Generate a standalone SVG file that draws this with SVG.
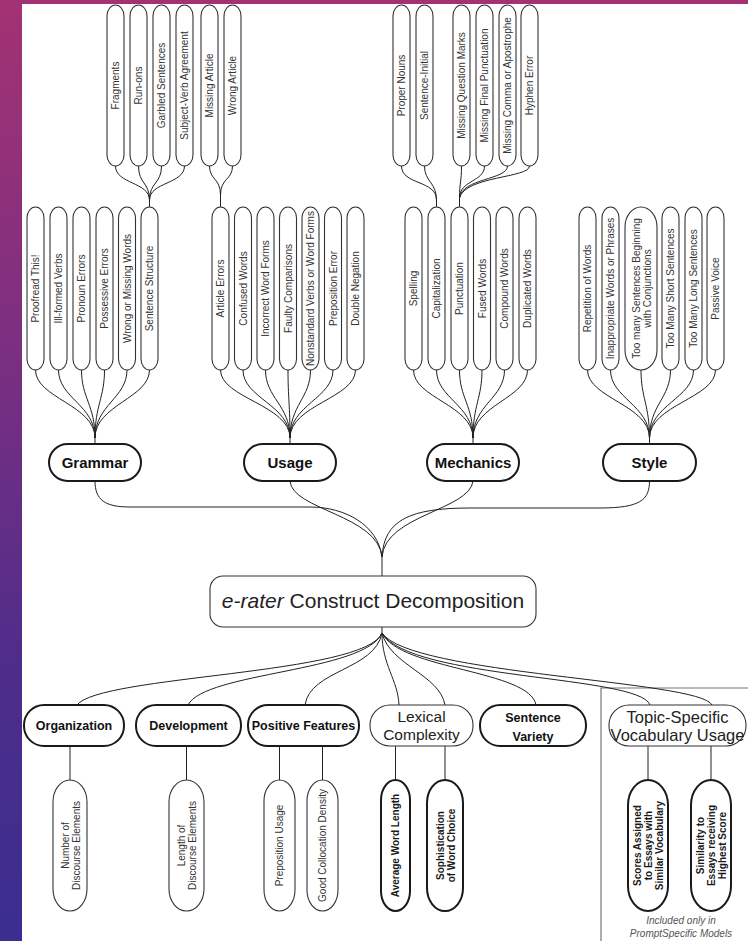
<svg xmlns="http://www.w3.org/2000/svg" width="748" height="941" viewBox="0 0 748 941">
<defs>
<linearGradient id="bg" x1="0" y1="0" x2="0" y2="1">
<stop offset="0" stop-color="#a33272"/>
<stop offset="0.35" stop-color="#7e2f80"/>
<stop offset="0.7" stop-color="#4f2d8a"/>
<stop offset="1" stop-color="#3a2e90"/>
</linearGradient>
<style>
.pill{fill:#fff;stroke:#333;stroke-width:1.1}
.pillb{fill:#fff;stroke:#1a1a1a;stroke-width:2}
.cat{fill:#fff;stroke:#1a1a1a;stroke-width:2}
.catt{fill:#fff;stroke:#333;stroke-width:1.1}
.pt{font-family:"Liberation Sans",Arial,sans-serif;font-size:10px;fill:#333;text-anchor:middle;dominant-baseline:central}
.ptb{font-family:"Liberation Sans",Arial,sans-serif;font-size:10px;font-weight:bold;fill:#1a1a1a;text-anchor:middle;dominant-baseline:central}
.ct{font-family:"Liberation Sans",Arial,sans-serif;font-size:15px;font-weight:bold;fill:#111;text-anchor:middle}
.bt{font-family:"Liberation Sans",Arial,sans-serif;font-size:12.5px;font-weight:bold;fill:#111;text-anchor:middle}
.rt{font-family:"Liberation Sans",Arial,sans-serif;font-weight:normal;fill:#222;text-anchor:middle}
.conn path{fill:none;stroke:#222;stroke-width:1}
.leafc{stroke:#555;stroke-width:1.3}
.note{font-family:"Liberation Sans",Arial,sans-serif;font-size:10px;font-style:italic;fill:#555;text-anchor:middle}
</style>
</defs>
<rect x="0" y="0" width="748" height="941" fill="url(#bg)"/>
<rect x="22" y="4" width="726" height="937" fill="#fff"/>

<!-- separator -->
<g id="separator" stroke="#777" stroke-width="1.2" fill="none">
<path d="M601 941 V688 H748"/>
</g>

<!-- connectors -->
<g id="connectors" class="conn">
<path d="M115.5 166 C115.5 184 149.5 182 149.5 200"/>
<path d="M138.5 166 C138.5 184 149.5 182 149.5 200"/>
<path d="M161.5 166 C161.5 184 149.5 182 149.5 200"/>
<path d="M184.5 166 C184.5 184 149.5 182 149.5 200"/>
<path d="M149.5 200 V207"/>
<path d="M209.5 166 C209.5 180 220.5 178 220.5 195"/>
<path d="M232.5 166 C232.5 180 220.5 178 220.5 195"/>
<path d="M220.5 195 V207"/>
<path d="M401.5 166 C401.5 185 436.5 180 436.5 200"/>
<path d="M424.5 166 C424.5 182 436.5 182 436.5 200"/>
<path d="M436.5 200 V207"/>
<path d="M461.5 166 C461.5 182 459.5 182 459.5 198"/>
<path d="M484.5 166 C484.5 182 459.5 180 459.5 198"/>
<path d="M507.5 166 C507.5 180 462 178 459.5 198"/>
<path d="M529.5 166 C529.5 178 465 176 459.5 198"/>
<path d="M459.5 198 V207"/>

<path d="M35.5 370 C35.5 398 95 405 95 438"/>
<path d="M58.5 370 C58.5 398 95 405 95 438"/>
<path d="M81.5 370 C81.5 398 95 405 95 438"/>
<path d="M104.5 370 C104.5 398 95 405 95 438"/>
<path d="M127 370 C127 398 95 405 95 438"/>
<path d="M149.5 370 C149.5 398 95 405 95 438"/>
<path d="M95 438 V444"/>

<path d="M220.5 370 C220.5 398 290 405 290 438"/>
<path d="M243 370 C243 398 290 405 290 438"/>
<path d="M265.5 370 C265.5 398 290 405 290 438"/>
<path d="M288 370 C288 398 290 405 290 438"/>
<path d="M310.5 370 C310.5 398 290 405 290 438"/>
<path d="M333 370 C333 398 290 405 290 438"/>
<path d="M355.5 370 C355.5 398 290 405 290 438"/>
<path d="M290 438 V444"/>

<path d="M413.5 370 C413.5 398 473 405 473 438"/>
<path d="M436.5 370 C436.5 398 473 405 473 438"/>
<path d="M459.5 370 C459.5 398 473 405 473 438"/>
<path d="M482 370 C482 398 473 405 473 438"/>
<path d="M504.5 370 C504.5 398 473 405 473 438"/>
<path d="M527.5 370 C527.5 398 473 405 473 438"/>
<path d="M473 438 V444"/>

<path d="M587.5 370 C587.5 398 649.5 405 649.5 438"/>
<path d="M610.5 370 C610.5 398 649.5 405 649.5 438"/>
<path d="M641 370 C641 398 649.5 405 649.5 438"/>
<path d="M670.5 370 C670.5 398 649.5 405 649.5 438"/>
<path d="M693.5 370 C693.5 398 649.5 405 649.5 438"/>
<path d="M715.5 370 C715.5 398 649.5 405 649.5 438"/>
<path d="M649.5 438 V444"/>

<path d="M95 481 C95 500 105 507 130 507 L310 507 C345 507 378 525 382 557"/>
<path d="M290 481 C292 510 378 515 382 557"/>
<path d="M473 481 C470 510 385 515 382 557"/>
<path d="M649.5 481 C649.5 500 640 508 600 508 L470 508 C410 508 384 520 382 557"/>
<path d="M382 557 V576"/>

<path d="M382 627 V633"/>
<path d="M382 633 C365 675 100 675 77 705"/>
<path d="M382 633 C365 672 205 672 188 705"/>
<path d="M382 633 C375 670 310 670 305 705"/>
<path d="M382 633 C382 665 398 680 399 705"/>
<path d="M382 633 C390 665 440 675 445 705"/>
<path d="M382 633 C400 670 530 670 536 705"/>
<path d="M382 633 C410 680 640 675 650 705"/>
<path d="M382 633 C410 675 700 680 712 705"/>

<path class="leafc" d="M70 746 V780"/>
<path class="leafc" d="M186.5 746 V780"/>
<path class="leafc" d="M279.5 746 V780"/>
<path class="leafc" d="M322.5 746 V780"/>
<path class="leafc" d="M395.5 746 V780"/>
<path class="leafc" d="M445 746 V780"/>
<path class="leafc" d="M648 746 V780"/>
<path class="leafc" d="M711 746 V780"/>
</g>

<!-- top row pills -->
<g id="fragments"><rect class="pill" x="107" y="5" width="17" height="161" rx="8.5" ry="11"/><text class="pt" transform="translate(115.5 85.5) rotate(-90)">Fragments</text></g>
<g id="run-ons"><rect class="pill" x="130" y="5" width="17" height="161" rx="8.5" ry="11"/><text class="pt" transform="translate(138.5 85.5) rotate(-90)">Run-ons</text></g>
<g id="garbled"><rect class="pill" x="153" y="5" width="17" height="161" rx="8.5" ry="11"/><text class="pt" transform="translate(161.5 85.5) rotate(-90)">Garbled Sentences</text></g>
<g id="subject-verb"><rect class="pill" x="176" y="5" width="17" height="161" rx="8.5" ry="11"/><text class="pt" transform="translate(184.5 85.5) rotate(-90)">Subject-Verb Agreement</text></g>
<g id="missing-article"><rect class="pill" x="201" y="5" width="17" height="161" rx="8.5" ry="11"/><text class="pt" transform="translate(209.5 85.5) rotate(-90)">Missing Article</text></g>
<g id="wrong-article"><rect class="pill" x="224" y="5" width="17" height="161" rx="8.5" ry="11"/><text class="pt" transform="translate(232.5 85.5) rotate(-90)">Wrong Article</text></g>
<g id="proper-nouns"><rect class="pill" x="393" y="5" width="17" height="161" rx="8.5" ry="11"/><text class="pt" transform="translate(401.5 85.5) rotate(-90)">Proper Nouns</text></g>
<g id="sentence-initial"><rect class="pill" x="416" y="5" width="17" height="161" rx="8.5" ry="11"/><text class="pt" transform="translate(424.5 85.5) rotate(-90)">Sentence-Initial</text></g>
<g id="missing-question"><rect class="pill" x="453" y="5" width="17" height="161" rx="8.5" ry="11"/><text class="pt" transform="translate(461.5 85.5) rotate(-90)">Missing Question Marks</text></g>
<g id="missing-final"><rect class="pill" x="476" y="5" width="17" height="161" rx="8.5" ry="11"/><text class="pt" transform="translate(484.5 85.5) rotate(-90)">Missing Final Punctuation</text></g>
<g id="missing-comma"><rect class="pill" x="499" y="5" width="17" height="161" rx="8.5" ry="11"/><text class="pt" transform="translate(507.5 85.5) rotate(-90)">Missing Comma or Apostrophe</text></g>
<g id="hyphen"><rect class="pill" x="521" y="5" width="17" height="161" rx="8.5" ry="11"/><text class="pt" transform="translate(529.5 85.5) rotate(-90)">Hyphen Error</text></g>

<!-- second row pills: grammar -->
<g id="proofread"><rect class="pill" x="27" y="207" width="17" height="163" rx="8.5" ry="11"/><text class="pt" transform="translate(35.5 288.5) rotate(-90)">Proofread This!</text></g>
<g id="ill-formed"><rect class="pill" x="50" y="207" width="17" height="163" rx="8.5" ry="11"/><text class="pt" transform="translate(58.5 288.5) rotate(-90)">Ill-formed Verbs</text></g>
<g id="pronoun"><rect class="pill" x="73" y="207" width="17" height="163" rx="8.5" ry="11"/><text class="pt" transform="translate(81.5 288.5) rotate(-90)">Pronoun Errors</text></g>
<g id="possessive"><rect class="pill" x="96" y="207" width="17" height="163" rx="8.5" ry="11"/><text class="pt" transform="translate(104.5 288.5) rotate(-90)">Possessive Errors</text></g>
<g id="wrong-missing"><rect class="pill" x="118.5" y="207" width="17" height="163" rx="8.5" ry="11"/><text class="pt" transform="translate(127 288.5) rotate(-90)">Wrong or Missing Words</text></g>
<g id="sentence-structure"><rect class="pill" x="141" y="207" width="17" height="163" rx="8.5" ry="11"/><text class="pt" transform="translate(149.5 288.5) rotate(-90)">Sentence Structure</text></g>
<!-- usage -->
<g id="article-errors"><rect class="pill" x="212" y="207" width="17" height="163" rx="8.5" ry="11"/><text class="pt" transform="translate(220.5 288.5) rotate(-90)">Article Errors</text></g>
<g id="confused"><rect class="pill" x="234.5" y="207" width="17" height="163" rx="8.5" ry="11"/><text class="pt" transform="translate(243 288.5) rotate(-90)">Confused Words</text></g>
<g id="incorrect-forms"><rect class="pill" x="257" y="207" width="17" height="163" rx="8.5" ry="11"/><text class="pt" transform="translate(265.5 288.5) rotate(-90)">Incorrect Word Forms</text></g>
<g id="faulty"><rect class="pill" x="279.5" y="207" width="17" height="163" rx="8.5" ry="11"/><text class="pt" transform="translate(288 288.5) rotate(-90)">Faulty Comparisons</text></g>
<g id="nonstandard"><rect class="pill" x="302" y="207" width="17" height="163" rx="8.5" ry="11"/><text class="pt" transform="translate(310.5 288.5) rotate(-90)">Nonstandard Verbs or Word Forms</text></g>
<g id="preposition-error"><rect class="pill" x="324.5" y="207" width="17" height="163" rx="8.5" ry="11"/><text class="pt" transform="translate(333 288.5) rotate(-90)">Preposition Error</text></g>
<g id="double-negation"><rect class="pill" x="347" y="207" width="17" height="163" rx="8.5" ry="11"/><text class="pt" transform="translate(355.5 288.5) rotate(-90)">Double Negation</text></g>
<!-- mechanics -->
<g id="spelling"><rect class="pill" x="405" y="207" width="17" height="163" rx="8.5" ry="11"/><text class="pt" transform="translate(413.5 288.5) rotate(-90)">Spelling</text></g>
<g id="capitalization"><rect class="pill" x="428" y="207" width="17" height="163" rx="8.5" ry="11"/><text class="pt" transform="translate(436.5 288.5) rotate(-90)">Capitalization</text></g>
<g id="punctuation"><rect class="pill" x="451" y="207" width="17" height="163" rx="8.5" ry="11"/><text class="pt" transform="translate(459.5 288.5) rotate(-90)">Punctuation</text></g>
<g id="fused"><rect class="pill" x="473.5" y="207" width="17" height="163" rx="8.5" ry="11"/><text class="pt" transform="translate(482 288.5) rotate(-90)">Fused Words</text></g>
<g id="compound"><rect class="pill" x="496" y="207" width="17" height="163" rx="8.5" ry="11"/><text class="pt" transform="translate(504.5 288.5) rotate(-90)">Compound Words</text></g>
<g id="duplicated"><rect class="pill" x="519" y="207" width="17" height="163" rx="8.5" ry="11"/><text class="pt" transform="translate(527.5 288.5) rotate(-90)">Duplicated Words</text></g>
<!-- style -->
<g id="repetition"><rect class="pill" x="579" y="207" width="17" height="163" rx="8.5" ry="11"/><text class="pt" transform="translate(587.5 288.5) rotate(-90)">Repetition of Words</text></g>
<g id="inappropriate"><rect class="pill" x="602" y="207" width="17" height="163" rx="8.5" ry="11"/><text class="pt" transform="translate(610.5 288.5) rotate(-90)">Inappropriate Words or Phrases</text></g>
<g id="conjunctions"><rect class="pill" x="625" y="207" width="32" height="163" rx="16" ry="20"/><text class="pt" transform="translate(641 288.5) rotate(-90)"><tspan x="0" y="-5.5">Too many Sentences Beginning</tspan><tspan x="0" y="5.5">with Conjunctions</tspan></text></g>
<g id="short-sentences"><rect class="pill" x="662" y="207" width="17" height="163" rx="8.5" ry="11"/><text class="pt" transform="translate(670.5 288.5) rotate(-90)">Too Many Short Sentences</text></g>
<g id="long-sentences"><rect class="pill" x="685" y="207" width="17" height="163" rx="8.5" ry="11"/><text class="pt" transform="translate(693.5 288.5) rotate(-90)">Too Many Long Sentences</text></g>
<g id="passive"><rect class="pill" x="707" y="207" width="17" height="163" rx="8.5" ry="11"/><text class="pt" transform="translate(715.5 288.5) rotate(-90)">Passive Voice</text></g>

<!-- categories -->
<g id="grammar"><rect class="cat" x="49" y="444" width="92" height="37" rx="18.5"/><text class="ct" x="95" y="468">Grammar</text></g>
<g id="usage"><rect class="cat" x="244" y="444" width="92" height="37" rx="18.5"/><text class="ct" x="290" y="468">Usage</text></g>
<g id="mechanics"><rect class="cat" x="427" y="444" width="92" height="37" rx="18.5"/><text class="ct" x="473" y="468">Mechanics</text></g>
<g id="style"><rect class="cat" x="603" y="444" width="93" height="37" rx="18.5"/><text class="ct" x="649.5" y="468">Style</text></g>

<!-- main -->
<g id="main"><rect class="catt" x="210" y="576" width="326" height="51" rx="13"/><text class="rt" x="373" y="608" font-size="21"><tspan font-style="italic">e-rater</tspan> Construct Decomposition</text></g>

<!-- bottom categories -->
<g id="organization"><rect class="cat" x="24" y="705" width="100" height="41" rx="20"/><text class="bt" x="74" y="730">Organization</text></g>
<g id="development"><rect class="cat" x="136" y="705" width="105" height="41" rx="20"/><text class="bt" x="188.5" y="730">Development</text></g>
<g id="positive"><rect class="cat" x="248" y="705" width="111" height="41" rx="20"/><text class="bt" x="303.5" y="730">Positive Features</text></g>
<g id="lexical"><rect class="catt" x="370" y="705" width="103" height="41" rx="20"/><text class="rt" font-size="15.5"><tspan x="421.5" y="722">Lexical</tspan><tspan x="421.5" y="740">Complexity</tspan></text></g>
<g id="sentence-variety"><rect class="cat" x="480" y="705" width="106" height="41" rx="20"/><text class="bt" font-size="12"><tspan x="533" y="722">Sentence</tspan><tspan x="533" y="741">Variety</tspan></text></g>
<g id="topic"><rect class="catt" x="609" y="705" width="137" height="41" rx="20"/><text class="rt" font-size="16.5"><tspan x="677.5" y="723">Topic-Specific</tspan><tspan x="677.5" y="741">Vocabulary Usage</tspan></text></g>

<!-- leaves -->
<g id="number-discourse"><rect class="pill" x="53" y="780" width="34" height="131" rx="17" ry="22"/><text class="pt" transform="translate(70 845.5) rotate(-90)"><tspan x="0" y="-5.5">Number of</tspan><tspan x="0" y="5.5">Discourse Elements</tspan></text></g>
<g id="length-discourse"><rect class="pill" x="169" y="780" width="35" height="131" rx="17.5" ry="22"/><text class="pt" transform="translate(186.5 845.5) rotate(-90)"><tspan x="0" y="-5.5">Length of</tspan><tspan x="0" y="5.5">Discourse Elements</tspan></text></g>
<g id="preposition-usage"><rect class="pill" x="264" y="780" width="31" height="131" rx="15.5" ry="21"/><text class="pt" transform="translate(279.5 845.5) rotate(-90)">Preposition Usage</text></g>
<g id="collocation"><rect class="pill" x="307" y="780" width="31" height="131" rx="15.5" ry="21"/><text class="pt" transform="translate(322.5 845.5) rotate(-90)">Good Collocation Density</text></g>
<g id="avg-word-length"><rect class="pillb" x="381" y="780" width="29" height="131" rx="14.5" ry="20"/><text class="ptb" transform="translate(395.5 845.5) rotate(-90)">Average Word Length</text></g>
<g id="sophistication"><rect class="pillb" x="427" y="780" width="36" height="131" rx="18" ry="23"/><text class="ptb" transform="translate(445 845.5) rotate(-90)"><tspan x="0" y="-5.5">Sophistication</tspan><tspan x="0" y="5.5">of Word Choice</tspan></text></g>
<g id="scores-assigned"><rect class="pillb" x="628" y="780" width="40" height="131" rx="20" ry="25"/><text class="ptb" transform="translate(648 845.5) rotate(-90)"><tspan x="0" y="-11">Scores Assigned</tspan><tspan x="0" y="0">to Essays with</tspan><tspan x="0" y="11">Similar Vocabulary</tspan></text></g>
<g id="similarity"><rect class="pillb" x="691" y="780" width="40" height="131" rx="20" ry="25"/><text class="ptb" transform="translate(711 845.5) rotate(-90)"><tspan x="0" y="-11">Similarity to</tspan><tspan x="0" y="0">Essays receiving</tspan><tspan x="0" y="11">Highest Score</tspan></text></g>

<g id="note"><text class="note"><tspan x="681" y="924">Included only in</tspan><tspan x="681" y="937">PromptSpecific Models</tspan></text></g>
</svg>
